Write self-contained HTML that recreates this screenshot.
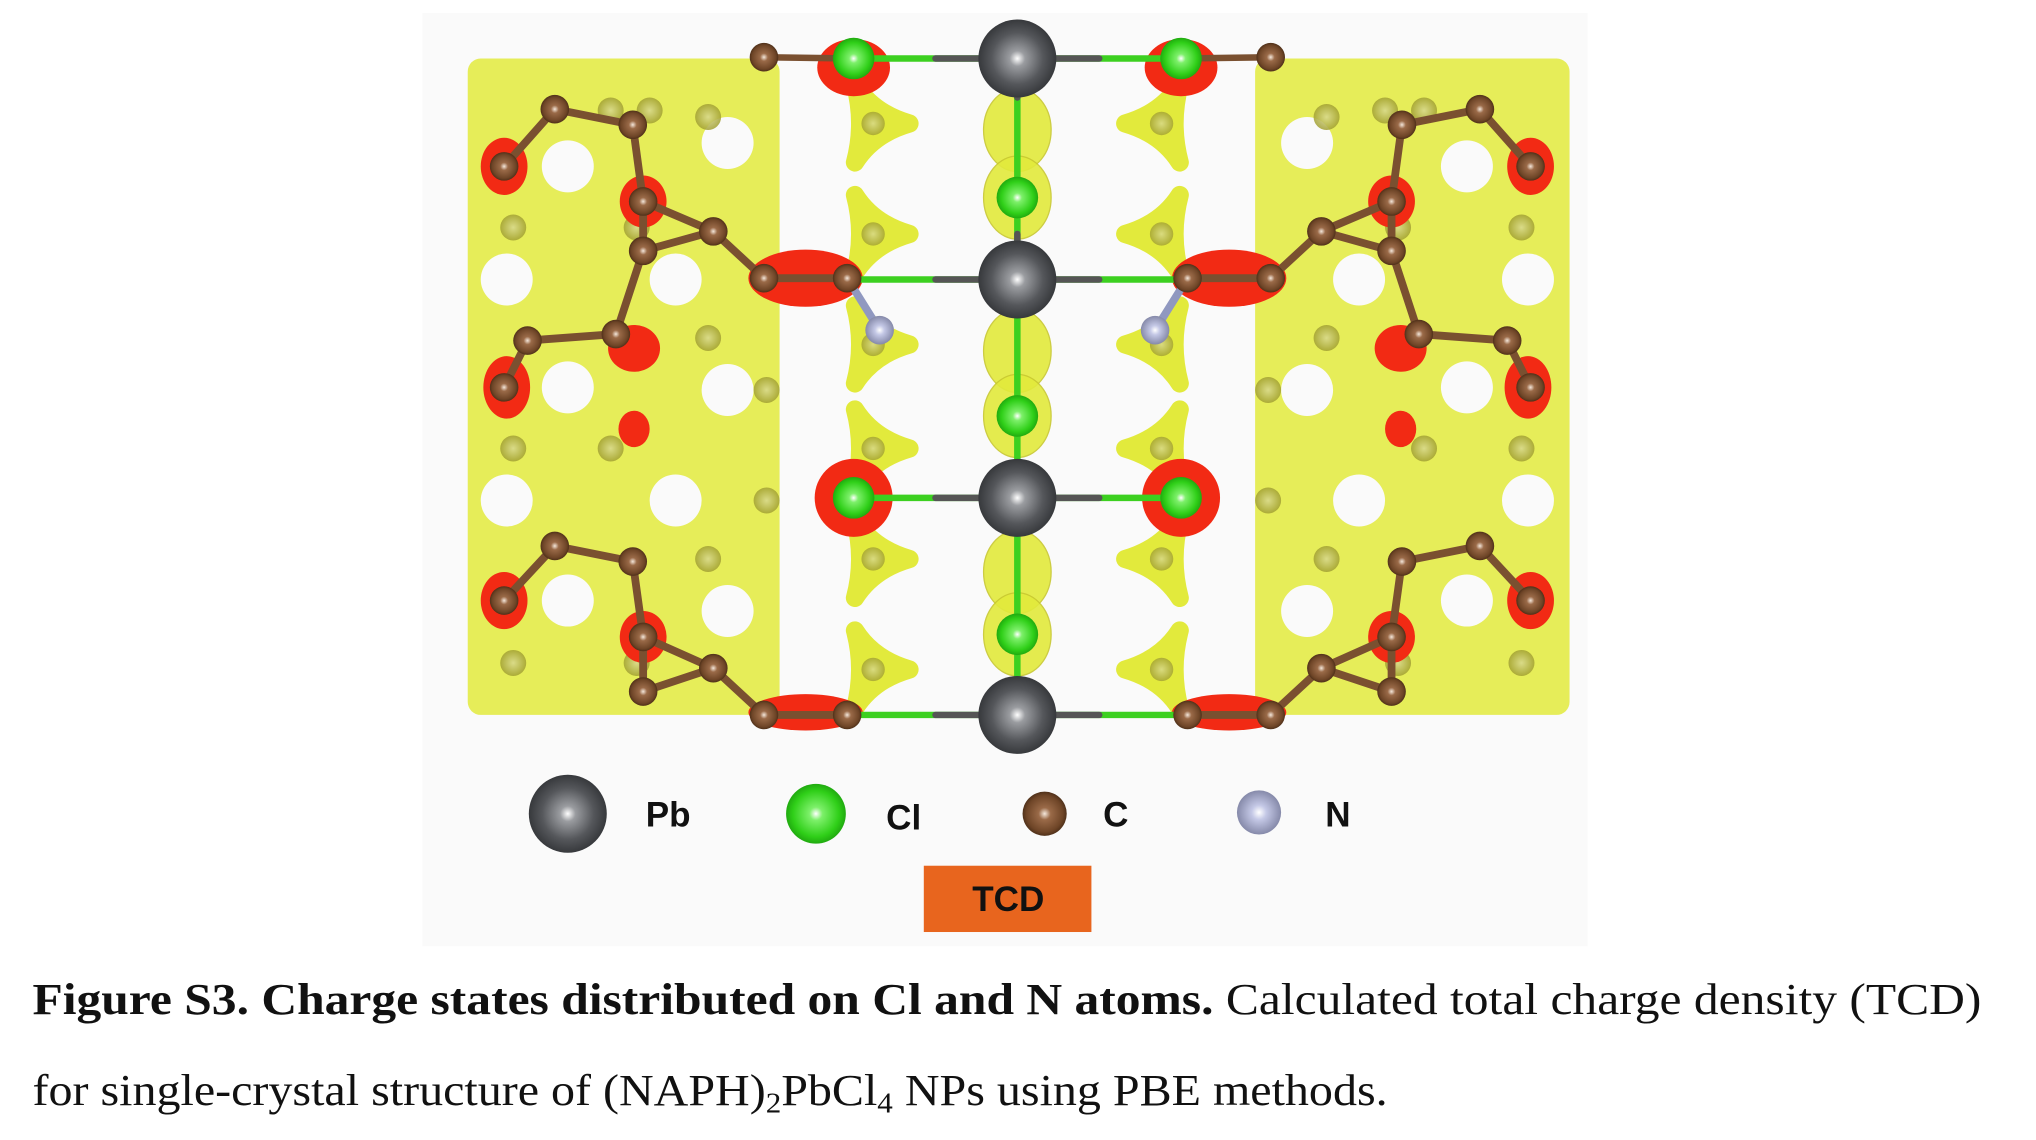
<!DOCTYPE html>
<html><head><meta charset="utf-8"><style>
html,body{margin:0;padding:0;background:#fff;width:2036px;height:1140px;overflow:hidden}
svg{display:block}
</style></head><body>
<svg width="2036" height="1140" viewBox="0 0 1567 877" preserveAspectRatio="none" xmlns="http://www.w3.org/2000/svg">
<defs>
<radialGradient id="gPb" cx="50%" cy="50%" r="55%"><stop offset="0" stop-color="#fff"/><stop offset="0.18" stop-color="#9a9ca0"/><stop offset="0.6" stop-color="#55575b"/><stop offset="1" stop-color="#2e3033"/></radialGradient>
<radialGradient id="gCl" cx="50%" cy="50%" r="55%"><stop offset="0" stop-color="#fff"/><stop offset="0.2" stop-color="#7df06a"/><stop offset="0.7" stop-color="#2fcf18"/><stop offset="1" stop-color="#1a9a0c"/></radialGradient>
<radialGradient id="gC" cx="50%" cy="50%" r="55%"><stop offset="0" stop-color="#f5e8dc"/><stop offset="0.25" stop-color="#9a6a48"/><stop offset="0.75" stop-color="#6e4527"/><stop offset="1" stop-color="#3e2512"/></radialGradient>
<radialGradient id="gN" cx="50%" cy="50%" r="55%"><stop offset="0" stop-color="#fff"/><stop offset="0.3" stop-color="#c4c8e6"/><stop offset="1" stop-color="#7c80a0"/></radialGradient>
<radialGradient id="gOl" cx="50%" cy="50%" r="55%"><stop offset="0" stop-color="#d8d890"/><stop offset="1" stop-color="#9c9a28"/></radialGradient>
</defs>
<rect x="325" y="10" width="897" height="718" fill="#fafafa"/>
<g id="struct"></g>
<g font-family="Liberation Sans, sans-serif" font-weight="bold" font-size="27" fill="#111">
<circle cx="437" cy="626" r="30" fill="url(#gPb)"/>
<text x="497" y="636">Pb</text>
<circle cx="628" cy="626" r="23" fill="url(#gCl)"/>
<text x="682" y="638">Cl</text>
<circle cx="804" cy="626" r="17" fill="url(#gC)"/>
<text x="849" y="636">C</text>
<circle cx="969" cy="625" r="17" fill="url(#gN)"/>
<text x="1020" y="636">N</text>
</g>
<rect x="711" y="666" width="129" height="51" fill="#e8651e"/>
<text x="776" y="701" text-anchor="middle" font-family="Liberation Sans, sans-serif" font-weight="bold" font-size="27" fill="#111">TCD</text>
<text x="25" y="780" font-family="Liberation Serif, serif" font-size="34" fill="#111" textLength="1500" lengthAdjust="spacingAndGlyphs"><tspan font-weight="bold">Figure S3. Charge states distributed on Cl and N atoms.</tspan> Calculated total charge density (TCD)</text>
<text x="25" y="850" font-family="Liberation Serif, serif" font-size="34" fill="#111" textLength="1043" lengthAdjust="spacingAndGlyphs">for single-crystal structure of (NAPH)<tspan font-size="22" dy="6">2</tspan><tspan dy="-6">PbCl</tspan><tspan font-size="22" dy="6">4</tspan><tspan dy="-6"> NPs using PBE methods.</tspan></text>
</svg>
<script>
var NS='http://www.w3.org/2000/svg';
var g=document.getElementById('struct');
function el(t,a){var e=document.createElementNS(NS,t);for(var k in a)e.setAttribute(k,a[k]);g.appendChild(e);return e;}
var Y='#e2ea3c';
function tri(x,y,s,flip){
  var d=flip?-1:1;
  var p='M'+(x-14*s*d)+','+(y-30*s)+' Q'+(x)+','+(y-8*s)+' '+(x+28*s*d)+','+(y)+' Q'+(x)+','+(y+8*s)+' '+(x-14*s*d)+','+(y+30*s)+' Q'+(x-6*s*d)+','+(y)+' '+(x-14*s*d)+','+(y-30*s)+'Z';
  var e=el('path',{d:p,fill:Y,stroke:Y,'stroke-width':14*s,'stroke-linejoin':'round'});
  
  
  el('circle',{cx:x,cy:y,r:9*s,fill:'url(#gOl)',opacity:0.8});
}
[[360,600],[966,1208]].forEach(function(r){
  var b=el('rect',{x:r[0],y:45,width:r[1]-r[0],height:505,fill:Y,opacity:0.85,rx:10});
  
  
});
var holes=[[437,128],[437,298],[437,462],[520,215],[520,385],[1129,128],[1129,298],[1129,462],[1046,215],[1046,385],[390,215],[390,385],[1176,215],[1176,385],[560,110],[560,300],[560,470],[1006,110],[1006,300],[1006,470]];
holes.forEach(function(h){
  var e=el('circle',{cx:h[0],cy:h[1],r:20,fill:'#fafafa'});
  
  
});
[[395,175],[490,175],[470,345],[395,345],[490,510],[395,510],[545,260],[545,430],[545,90],[590,385],[590,300],[470,85],[500,85]].forEach(function(p){
  el('circle',{cx:p[0],cy:p[1],r:10,fill:'url(#gOl)',opacity:0.85});
  el('circle',{cx:1566-p[0],cy:p[1],r:10,fill:'url(#gOl)',opacity:0.85});
});
[95,180,265,345,430,515].forEach(function(y){tri(672,y,1,false);tri(894,y,1,true);});
[[100,152],[270,320],[440,488]].forEach(function(p){
  [p[0],p[1]].forEach(function(y){
    var e=el('ellipse',{cx:783,cy:y,rx:26,ry:32,fill:Y,stroke:'#c8c830','stroke-width':1,opacity:0.9});
    
    
  });
});
var reds=[[388,128,18,22],[495,155,18,20],[620,214,44,22],[488,268,20,18],[390,298,18,24],[488,330,12,14],[388,462,18,22],[495,490,18,20],[620,548,44,14],[657,52,28,22],[657,383,30,30]];
reds.forEach(function(r){
  [r[0],1566-r[0]].forEach(function(x){
    var e=el('ellipse',{cx:x,cy:r[1],rx:r[2],ry:r[3],fill:'#f22a14'});
    
    
  });
});
function bond(a,b,col,w){el('line',{x1:a[0],y1:a[1],x2:b[0],y2:b[1],stroke:col,'stroke-width':w,'stroke-linecap':'round'});}
var Cs=[[427,84],[487,96],[388,128],[495,155],[495,193],[549,178],[588,214],[652,214],[406,262],[474,257],[388,298],[427,420],[487,432],[388,462],[495,490],[495,532],[549,514],[588,550],[652,550],[588,44]];
var bonds=[[0,1],[0,2],[1,3],[3,4],[3,5],[4,5],[5,6],[6,7],[4,9],[8,9],[8,10],[11,12],[11,13],[12,14],[14,15],[14,16],[15,16],[16,17],[17,18]];
[false,true].forEach(function(m){
  function P(p){return m?[1566-p[0],p[1]]:p;}
  bonds.forEach(function(b){bond(P(Cs[b[0]]),P(Cs[b[1]]),'#7a5030',6);});
  bond(P([652,214]),P([677,254]),'#9098c0',6);
  bond(P([588,44]),P([657,45]),'#7a5030',5);
});
[45,215,383,550].forEach(function(y){
  bond([657,y],[783,y],'#3cd020',5);bond([720,y],[760,y],'#555',5);
  bond([783,y],[909,y],'#3cd020',5);bond([806,y],[846,y],'#555',5);
});
bond([783,45],[783,550],'#3cd020',5);
[[783,60,120],[783,180,250],[783,390,450]].forEach(function(s){bond([s[0],s[1]],[s[0],s[1]+15],'#555',5);});
[false,true].forEach(function(m){
  Cs.forEach(function(p){
    var x=m?1566-p[0]:p[0];
    var e=el('circle',{cx:x,cy:p[1],r:11,fill:'url(#gC)'});
    
    
  });
  var n=el('circle',{cx:m?889:677,cy:254,r:11,fill:'url(#gN)'});
  
  
});
[[657,45],[909,45],[657,383],[909,383],[783,152],[783,320],[783,488]].forEach(function(p){
  var e=el('circle',{cx:p[0],cy:p[1],r:16,fill:'url(#gCl)'});
  
  
});
[45,215,383,550].forEach(function(y){
  var e=el('circle',{cx:783,cy:y,r:30,fill:'url(#gPb)'});
  
  
});
</script>
</body></html>
